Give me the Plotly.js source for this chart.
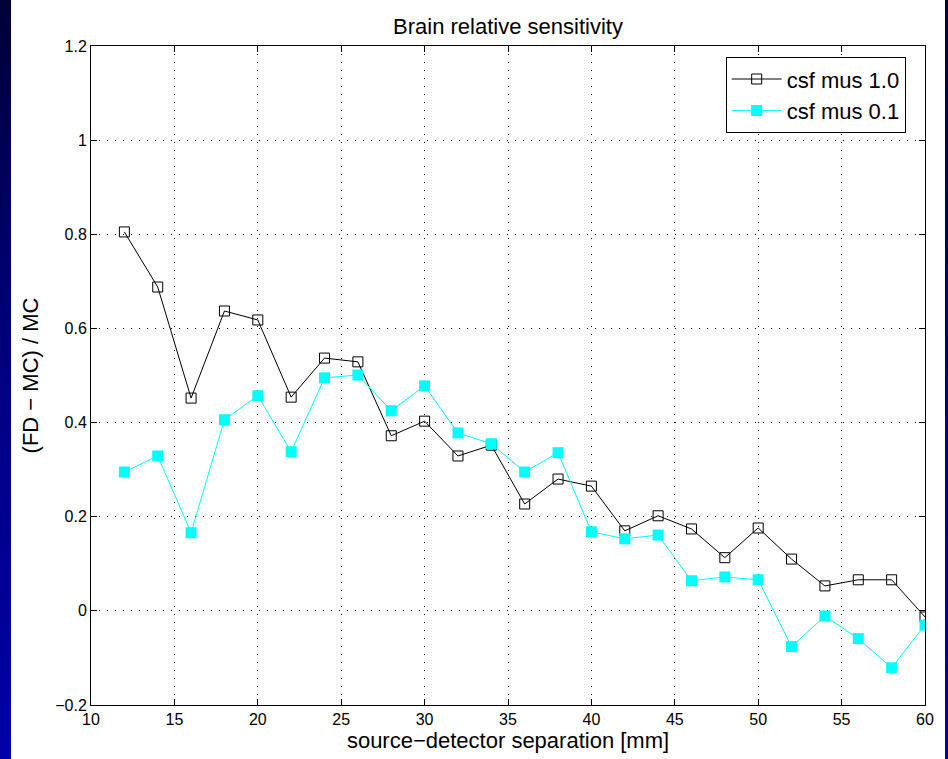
<!DOCTYPE html>
<html>
<head>
<meta charset="utf-8">
<script src="https://cdn.plot.ly/plotly-3.0.1.min.js"></script>
<style>
  html, body { margin: 0; padding: 0; width: 948px; height: 759px; overflow: hidden;
    background: linear-gradient(to bottom, #000038 0%, #000080 50%, #0000a8 100%); }
  #chart { position: absolute; left: 11px; top: 0; width: 934px; height: 759px; background: #fff; }
</style>
</head>
<body>
<div id="chart"></div>
<script>
const separation = [12,14,16,18,20,22,24,26,28,30,32,34,36,38,40,42,44,46,48,50,52,54,56,58,60];
const csfMus10 = [0.805,0.688,0.452,0.637,0.618,0.454,0.537,0.529,0.372,0.403,0.329,0.352,0.227,0.280,0.265,0.170,0.202,0.174,0.113,0.176,0.110,0.053,0.066,0.066,-0.013];
const csfMus01 = [0.295,0.329,0.166,0.406,0.457,0.338,0.495,0.501,0.425,0.478,0.378,0.355,0.295,0.336,0.168,0.153,0.161,0.064,0.072,0.066,-0.076,-0.011,-0.059,-0.121,-0.030];
const xTicks = [10,15,20,25,30,35,40,45,50,55,60];
const yTicks = [-0.2,0,0.2,0.4,0.6,0.8,1,1.2];
const yTickText = ['\u22120.2','0','0.2','0.4','0.6','0.8','1','1.2'];

const traces = [
  { x: separation, y: csfMus10, name: 'csf mus 1.0', mode: 'lines+markers', type: 'scatter',
    line: { color: '#000000', width: 1 },
    marker: { symbol: 'square-open', size: 10, color: '#000000', line: { width: 1, color: '#000000' } } },
  { x: separation, y: csfMus01, name: 'csf mus 0.1', mode: 'lines+markers', type: 'scatter',
    line: { color: '#00ffff', width: 1 },
    marker: { symbol: 'square', size: 11, color: '#00ffff', line: { width: 0 } } }
];

const axisCommon = {
  showline: true, linecolor: '#000', linewidth: 1, mirror: 'ticks',
  ticks: 'inside', ticklen: 6, tickcolor: '#000', tickwidth: 1,
  showgrid: true, gridcolor: '#000', gridwidth: 1, griddash: '1px,7px',
  zeroline: false, tickfont: { family: 'Liberation Sans, Arial, sans-serif', size: 16, color: '#000' }
};

const layout = {
  width: 934, height: 759,
  margin: { l: 80, r: 20, t: 46, b: 54 },
  paper_bgcolor: '#ffffff', plot_bgcolor: '#ffffff',
  font: { family: 'Liberation Sans, Arial, sans-serif', color: '#000' },
  title: { text: 'Brain relative sensitivity', font: { size: 22, color: '#000' },
    x: 0.5, xref: 'paper', y: 1 - 26/759, yref: 'container', yanchor: 'middle' },
  xaxis: Object.assign({}, axisCommon, {
    range: [10, 60], tickvals: xTicks, ticktext: xTicks.map(String),
    title: { text: 'source\u2212detector separation [mm]', font: { size: 22, color: '#000' }, standoff: 4 }
  }),
  yaxis: Object.assign({}, axisCommon, {
    range: [-0.2, 1.2], tickvals: yTicks, ticktext: yTickText,
    title: { text: '(FD \u2212 MC) / MC', font: { size: 22, color: '#000' }, standoff: 10 }
  }),
  showlegend: true,
  legend: { x: 0.761, y: 0.983, xanchor: 'left', yanchor: 'top',
    bgcolor: '#fff', bordercolor: '#000', borderwidth: 1, itemwidth: 50,
    font: { size: 22, color: '#000' }, tracegroupgap: 0 },
  hovermode: false
};

Plotly.newPlot('chart', traces, layout, { staticPlot: true, displayModeBar: false });
</script>
</body>
</html>
